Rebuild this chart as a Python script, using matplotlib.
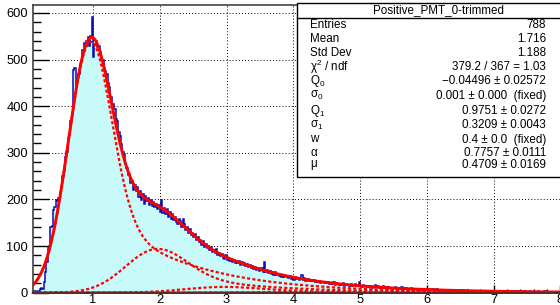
import math
import numpy as np
import matplotlib
matplotlib.use("Agg")
import matplotlib.pyplot as plt
from matplotlib.patches import Rectangle
from matplotlib.lines import Line2D

# ---------------- data ----------------
hist_name = "Positive_PMT_0-trimmed"
x_lo, x_hi = 0.1, 8.0          # histogram range
counts = [
    1, 3, 2, 2, 3, 8, 11, 9, 24, 44,
    66, 97, 101, 140, 144, 178, 183, 199, 197, 203,
    214, 226, 251, 262, 290, 301, 331, 340, 368, 381,
    478, 481, 442, 455, 468, 490, 495, 521, 535, 533,
    540, 548, 530, 551, 591, 505, 532, 540, 526, 529,
    516, 500, 498, 481, 476, 470, 449, 441, 420, 405,
    404, 393, 372, 368, 345, 336, 318, 301, 297, 277,
    268, 252, 255, 236, 240, 221, 230, 219, 226, 206,
    218, 198, 212, 190, 207, 196, 203, 188, 199, 186,
    195, 184, 191, 180, 188, 174, 199, 170, 181, 168,
    180, 163, 172, 158, 168, 155, 162, 151, 147, 158,
    154, 140, 157, 148, 135, 140, 128, 136, 124, 129,
    119, 125, 112, 120, 109, 114, 103, 110, 99, 105,
    95, 101, 92, 97, 88, 91, 85, 93, 80, 86,
    79, 84, 75, 72, 80, 70, 74, 68, 73, 66,
    71, 64, 68, 63, 67, 60, 65, 59, 63, 57,
    62, 55, 59, 52, 57, 51, 55, 49, 54, 47,
    48, 52, 44, 66, 45, 48, 42, 46, 40, 44,
    39, 44, 37, 41, 35, 39, 34, 38, 33, 36,
    34, 31, 36, 30, 33, 28, 34, 29, 31, 27,
    30, 38, 27, 31, 26, 29, 30, 25, 28, 26,
    27, 24, 26, 22, 25, 21, 24, 23, 20, 22,
    20, 23, 19, 21, 18, 22, 17, 20, 19, 16,
    19, 17, 20, 15, 18, 16, 17, 14, 18, 15,
    16, 18, 14, 17, 22, 15, 13, 16, 14, 15,
    13, 15, 12, 14, 11, 13, 16, 12, 14, 11,
    12, 10, 15, 11, 13, 9, 12, 10, 11, 9,
    10, 12, 9, 8, 11, 9, 12, 7, 9, 10,
    8, 9, 7, 10, 6, 8, 7, 9, 6, 8,
    7, 6, 9, 8, 5, 7, 9, 6, 5, 7,
    6, 5, 7, 4, 6, 5, 6, 4, 5, 6,
    4, 5, 6, 3, 5, 4, 5, 3, 4, 5,
    4, 3, 6, 4, 2, 5, 3, 4, 3, 4,
    3, 4, 2, 3, 4, 0, 3, 4, 2, 3,
    3, 2, 4, 0, 3, 2, 3, 4, 2, 0,
    3, 2, 0, 3, 4, 2, 3, 0, 2, 3,
    2, 3, 4, 2, 0, 3, 2, 1, 3, 0,
    2, 0, 3, 2, 1, 2, 0, 2, 3, 1,
    0, 2, 1, 3, 0, 2, 1, 0, 2, 1,
    1, 0, 2, 1, 0,
]

# fit parameters (from the stat box)
Q0, sigma0 = -0.04496, 0.001
Q1, sigma1 = 0.9751, 0.3209
w_frac, alpha, mu = 0.4, 0.7757, 0.4709
fit_norm = 2079.0   # overall amplitude (counts per bin)

stat_labels = ["Entries", "Mean", "Std Dev", r"$\chi^2$ / ndf", r"$Q_0$", r"$\sigma_0$",
               r"$Q_1$", r"$\sigma_1$", "w", r"$\alpha$", r"$\mu$"]
stat_values = ["788", "1.716", "1.188", "379.2 / 367 = 1.03",
               "\u22120.04496 \u00b1 0.02572", "0.001 \u00b1 0.000  (fixed)",
               "0.9751 \u00b1 0.0272", "0.3209 \u00b1 0.0043", "0.4 \u00b1 0.0  (fixed)",
               "0.7757 \u00b1 0.0111", "0.4709 \u00b1 0.0169"]

# ---------------- style ----------------
plt.rcParams['font.family'] = ['Liberation Sans', 'DejaVu Sans']
plt.rcParams['mathtext.fontset'] = 'custom'
plt.rcParams['mathtext.rm'] = 'Liberation Sans'
plt.rcParams['mathtext.it'] = 'Liberation Sans'
plt.rcParams['mathtext.default'] = 'regular'

W, H = 560, 305
fig = plt.figure(figsize=(W / 100, H / 100), dpi=100)
ax_l, ax_r, ax_t, ax_b = 33, 561, 5, 292.7
ax = fig.add_axes([ax_l / W, 1 - ax_b / H, (ax_r - ax_l) / W, (ax_b - ax_t) / H])

edges = np.linspace(x_lo, x_hi, len(counts) + 1)
ax.stairs(counts, edges, fill=True, color='#c8fafa', zorder=2, baseline=0)
ax.stairs(counts, edges, color='#0a0ab4', lw=1.1, zorder=3, baseline=0)

# ---------------- fit model ----------------
erf = np.vectorize(math.erf)


def gauss(x, m, s):
    return np.exp(-0.5 * ((x - m) / s) ** 2) / (math.sqrt(2 * math.pi) * s)


def gexp(x, m, s, a):
    z = (x - m) / s - a * s
    return a * np.exp(-a * (x - m) + 0.5 * a * a * s * s) * 0.5 * (1 + erf(z / math.sqrt(2)))


xf = np.linspace(x_lo, x_hi, 1200)
comps = []
for n in range(0, 7):
    pn = mu ** n * math.exp(-mu) / math.factorial(n)
    if n == 0:
        c = fit_norm * pn * (1 - w_frac) * gauss(xf, Q0, sigma0)
    else:
        qn = Q0 + n * Q1
        sn = math.sqrt(sigma0 ** 2 + n * sigma1 ** 2)
        c = fit_norm * pn * ((1 - w_frac) * gauss(xf, qn, sn) + w_frac * gexp(xf, qn, sn, alpha))
    comps.append(c)
total = np.sum(comps, axis=0)

ax.plot(xf, comps[0], color='red', lw=1.8, zorder=4, clip_on=False)
for c in comps[1:5]:
    ax.plot(xf, c, color='red', lw=1.6, ls=(0, (1.4, 1.0)), zorder=4)
ax.plot(xf, total, color='red', lw=2.1, zorder=5)

# ---------------- axes ----------------
ax.set_xlim(x_lo, x_hi + 0.01)
ax.set_ylim(0, 617)
ax.set_xticks(range(1, 9))
ax.set_xticks(np.arange(0.2, 8.01, 0.2), minor=True)
ax.set_yticks(range(0, 601, 100))
ax.set_yticks(range(0, 601, 20), minor=True)
ax.grid(True, which='major', color='black', ls=(0, (1, 2.2)), lw=0.7)
ax.set_axisbelow(True)
ax.tick_params(axis='x', which='major', direction='in', length=5.8, width=1, pad=0.6, labelsize=9.3)
ax.tick_params(axis='x', which='minor', direction='in', length=2.9, width=1)
ax.tick_params(axis='y', which='major', direction='in', length=11.5, width=1, pad=3.5, labelsize=9.3)
ax.tick_params(axis='y', which='minor', direction='in', length=5.8, width=1)
for s in ax.spines.values():
    s.set_linewidth(1.1)
    s.set_color('#333333')
    s.set_zorder(6)


# ---------------- stat box ----------------
def fx(px):
    return px / W


def fy(py):
    return 1 - py / H


box_l, box_r, box_t, box_b = 297, 600, 2.5, 177
fig.patches.append(Rectangle((fx(box_l), fy(box_b)), fx(box_r) - fx(box_l), fy(box_t) - fy(box_b),
                             transform=fig.transFigure, facecolor='white', edgecolor='black',
                             lw=1, zorder=10))
fig.lines.append(Line2D([fx(box_l), fx(box_r)], [fy(18.3), fy(18.3)], transform=fig.transFigure,
                        color='black', lw=1, zorder=11))
fig.text(fx(438), fy(10.5), hist_name, ha='center', va='center', fontsize=8.4, zorder=12)
row_y = [25, 39.5, 53, 66.5, 80.5, 95.5, 111, 125.5, 139.5, 152.5, 165.5]
for lab, val, yy in zip(stat_labels, stat_values, row_y):
    fig.text(fx(310), fy(yy), lab, ha='left', va='center', fontsize=8.4, zorder=12)
    fig.text(fx(546), fy(yy), val, ha='right', va='center', fontsize=8.4, zorder=12)

fig.savefig("out.png", dpi=100)
